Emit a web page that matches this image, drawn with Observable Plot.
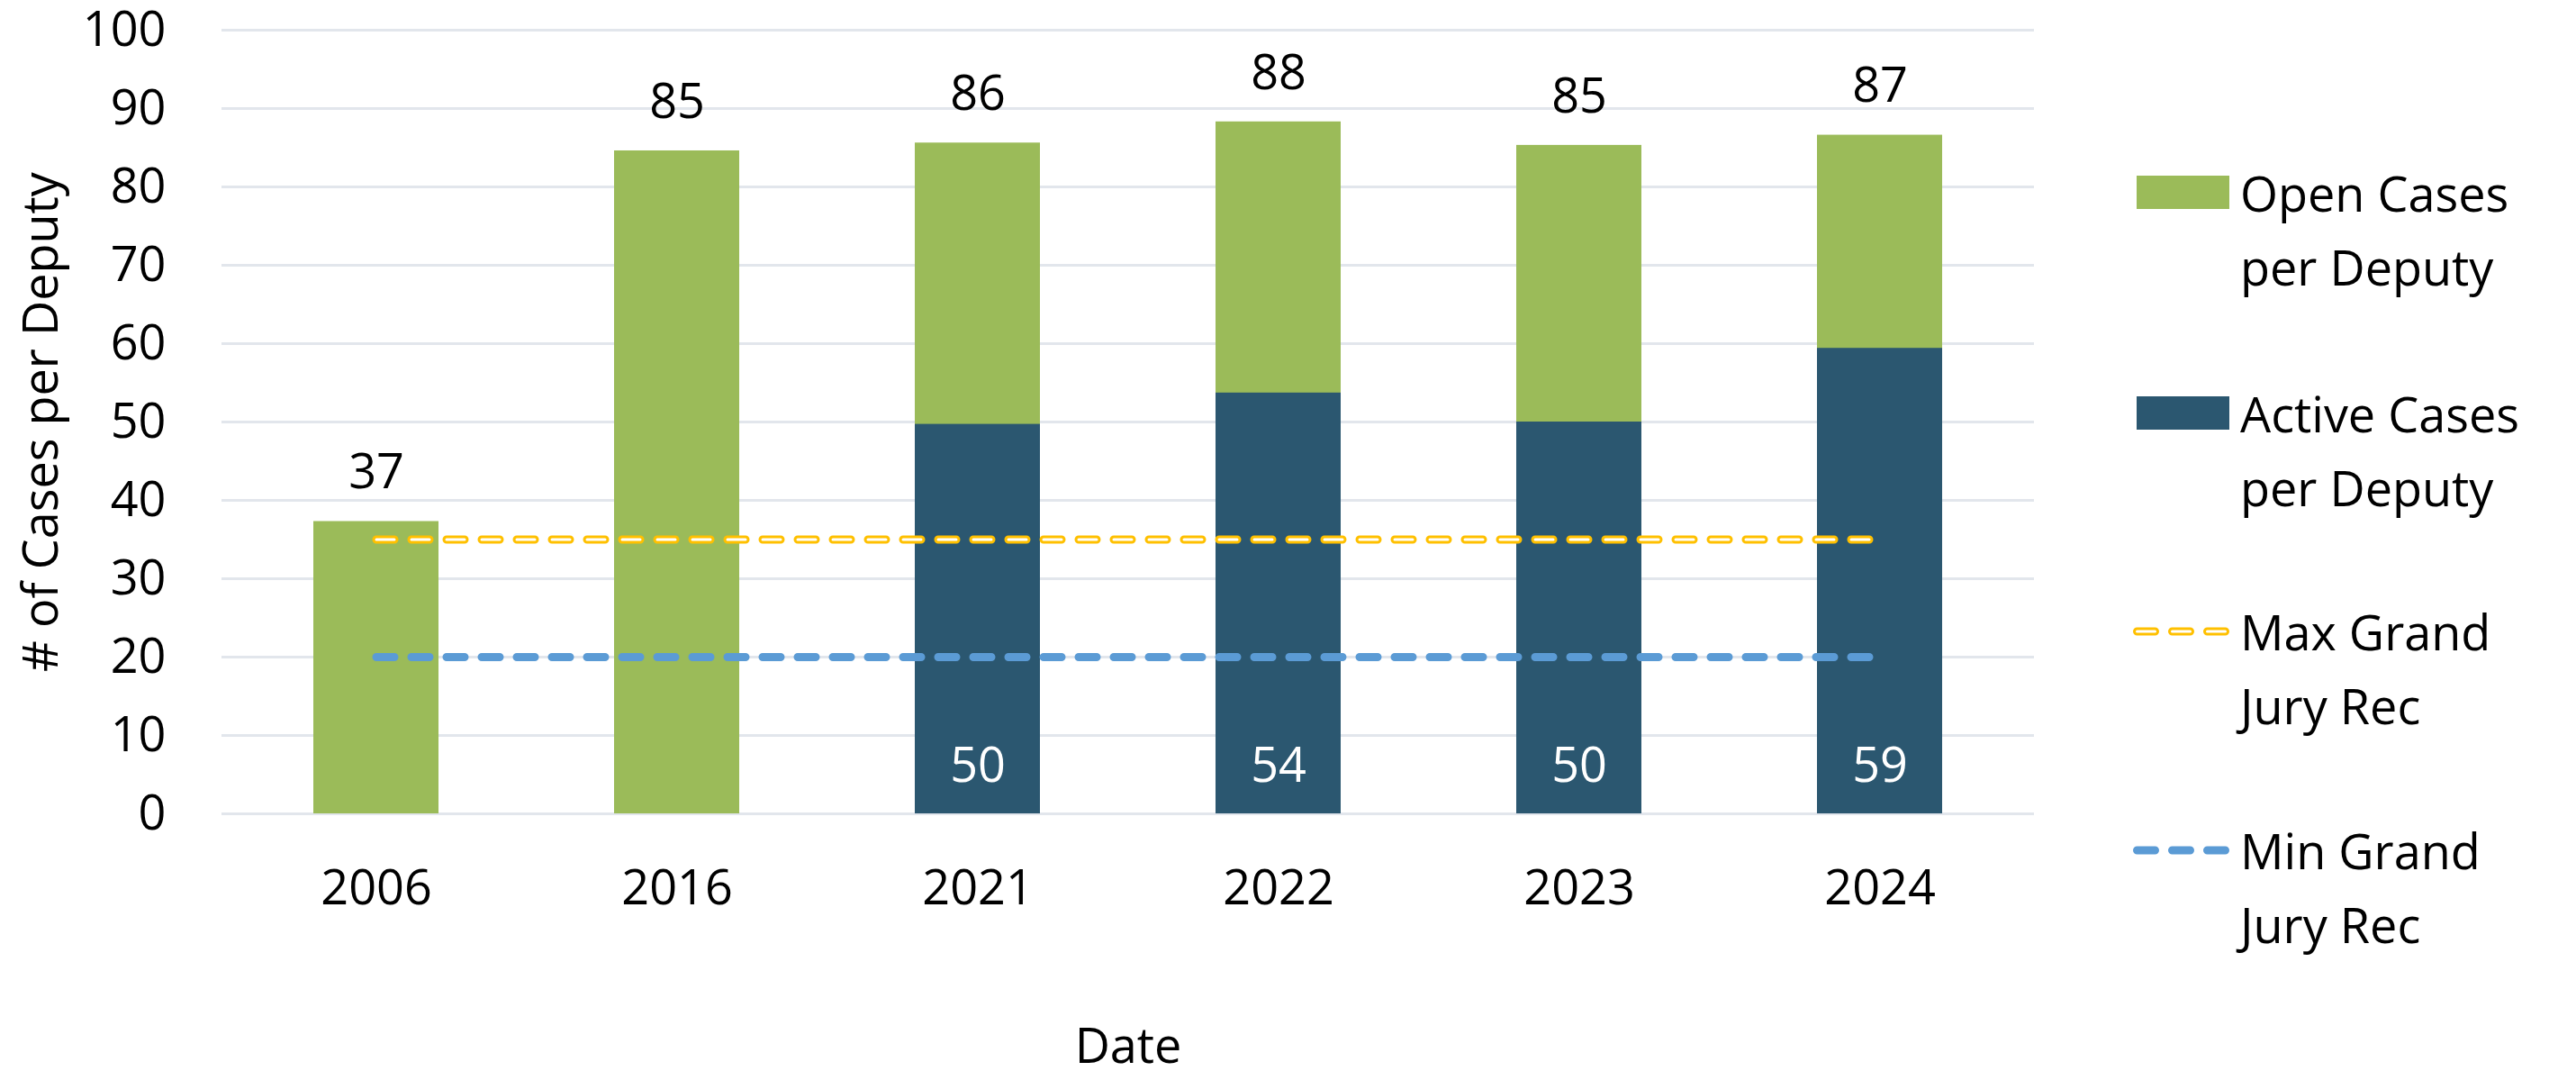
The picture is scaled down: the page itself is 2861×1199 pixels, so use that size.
<!DOCTYPE html>
<html><head><meta charset="utf-8">
<script src="https://cdn.jsdelivr.net/npm/d3@7"></script>
<script src="https://cdn.jsdelivr.net/npm/@observablehq/plot@0.6"></script>
<style>
html,body{margin:0;padding:0;background:#fff;}
body{width:2861px;height:1199px;position:relative;overflow:hidden;font-family:"Open Sans",sans-serif;}
#chart{position:absolute;left:0;top:0;}
.entry{position:absolute;left:2369px;display:flex;align-items:flex-start;}
.sw{width:110px;height:82px;display:flex;align-items:center;margin-right:9px;}
.lt{font-size:54px;line-height:82px;color:#000;white-space:nowrap;}
</style></head><body>
<div id="chart"></div><div id="legend"></div>
<script>
// ---- data ----
const years = ["2006", "2016", "2021", "2022", "2023", "2024"];
const openCases = [37.3, 84.6, 85.6, 88.3, 85.3, 86.6];
const openLabels = [37, 85, 86, 88, 85, 87];
const activeYears = ["2021", "2022", "2023", "2024"];
const activeCases = [49.7, 53.7, 50.0, 59.4];
const activeLabels = [50, 54, 50, 59];
const maxRec = 35;
const minRec = 20;
const yTicks = [0, 10, 20, 30, 40, 50, 60, 70, 80, 90, 100];
const seriesNames = ["Open Cases\nper Deputy", "Active Cases\nper Deputy", "Max Grand\nJury Rec", "Min Grand\nJury Rec"];

const green = "#9BBB59", teal = "#2B5770", yellow = "#FFC000", blue = "#5B9BD5";
const font = "'Open Sans', sans-serif";

const openData = years.map((y, i) => ({year: y, value: openCases[i], label: openLabels[i]}));
const activeData = activeYears.map((y, i) => ({year: y, value: activeCases[i], label: activeLabels[i]}));
const maxData = years.map(y => ({year: y, value: maxRec}));
const minData = years.map(y => ({year: y, value: minRec}));

const dash = "20 19";
const plot = Plot.plot({
  width: 2300, height: 1199,
  marginLeft: 246, marginRight: 41, marginTop: 33, marginBottom: 296,
  style: {fontFamily: font, fontSize: "54px", color: "#000", background: "#fff", overflow: "visible"},
  x: {domain: years, paddingInner: 0.585, paddingOuter: 0.3, label: null},
  y: {domain: [0, 100], label: null},
  marks: [
    Plot.gridY(yTicks, {stroke: "#E2E6EC", strokeOpacity: 1, strokeWidth: 3}),
    Plot.barY(openData, {x: "year", y: "value", fill: green}),
    Plot.barY(activeData, {x: "year", y: "value", fill: teal}),
    Plot.lineY(maxData, {x: "year", y: "value", stroke: yellow, strokeWidth: 9, strokeDasharray: dash, strokeLinecap: "round"}),
    Plot.lineY(maxData, {x: "year", y: "value", stroke: "#fff", strokeWidth: 3, strokeDasharray: dash, strokeLinecap: "round"}),
    Plot.lineY(minData, {x: "year", y: "value", stroke: blue, strokeWidth: 9, strokeDasharray: dash, strokeLinecap: "round"}),
    Plot.text(openData, {x: "year", y: "value", text: d => String(d.label), dy: -54, lineAnchor: "middle", fontSize: 54, fill: "#000"}),
    Plot.text(activeData, {x: "year", y: () => 0, text: d => String(d.label), dy: -53, lineAnchor: "middle", fontSize: 54, fill: "#fff"}),
    Plot.axisY({ticks: yTicks, tickSize: 0, tickPadding: 62, fontSize: 54, tickFormat: d => String(d),
      label: "# of Cases per Deputy", labelAnchor: "center", labelOffset: 221, labelArrow: "none"}),
    Plot.axisX({tickSize: 0, tickPadding: 62, fontSize: 54, label: "Date", labelAnchor: "center", labelOffset: 276, labelArrow: "none"})
  ]
});
document.getElementById("chart").appendChild(plot);

// ---- legend ----
const legend = document.getElementById("legend");
const tops = [173, 418, 660, 903];
const swatches = [
  `<svg width="110" height="40"><rect x="4" y="1" width="103" height="37" fill="${green}"/></svg>`,
  `<svg width="110" height="40"><rect x="4" y="1" width="103" height="37" fill="${teal}"/></svg>`,
  `<svg width="110" height="14"><line x1="4.5" x2="102.5" y1="7" y2="7" stroke="${yellow}" stroke-width="9" stroke-linecap="round" stroke-dasharray="${dash}"/><line x1="4.5" x2="102.5" y1="7" y2="7" stroke="#fff" stroke-width="3" stroke-linecap="round" stroke-dasharray="${dash}"/></svg>`,
  `<svg width="110" height="14"><line x1="4.5" x2="102.5" y1="7" y2="7" stroke="${blue}" stroke-width="9" stroke-linecap="round" stroke-dasharray="${dash}"/></svg>`
];
seriesNames.forEach((name, i) => {
  const e = document.createElement("div");
  e.className = "entry";
  e.style.top = tops[i] + "px";
  e.innerHTML = `<div class="sw">${swatches[i]}</div><div class="lt">${name.split("\n").join("<br>")}</div>`;
  legend.appendChild(e);
});
</script>
</body></html>
